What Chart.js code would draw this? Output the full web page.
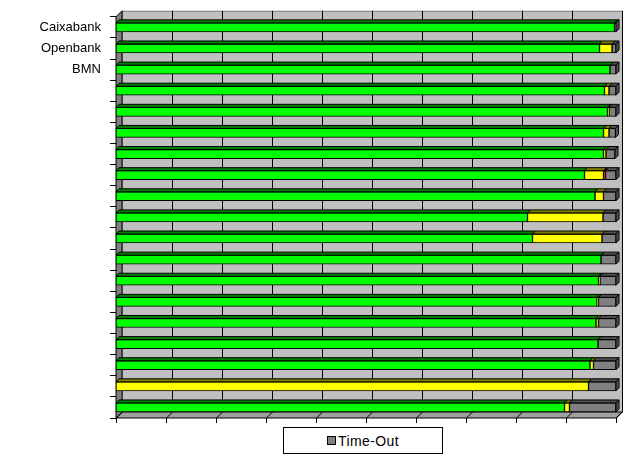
<!DOCTYPE html>
<html>
<head>
<meta charset="utf-8">
<script src="https://cdn.jsdelivr.net/npm/chart.js@4"></script>
<style>
  body { margin: 0; background: #fff; }
  #wrap { position: relative; width: 629px; height: 458px; }
  #legend { position: absolute; left: 283px; top: 427px; width: 158px; height: 25px;
            border: 1px solid #000; background: #fff; font: 14px "Liberation Sans", Arial, sans-serif;
            letter-spacing: 0.4px; display: flex; align-items: center; justify-content: center; }
  #legend span.sw { display: inline-block; width: 7px; height: 7px; background: #808080;
            border: 1px solid #000; margin-right: 2px; }
</style>
</head>
<body>
<div id="wrap">
  <canvas id="c"></canvas>
  <div id="legend"><span class="sw"></span>Time-Out</div>
</div>
<script>
// bancos (solo se leen las tres primeras etiquetas)
const categories = ['Caixabank', 'Openbank', 'BMN', '', '', '', '', '', '', '', '', '', '', '', '', '', '', '', ''];
const okValues      = [99.7, 96.7, 98.8, 97.7, 98.3, 97.5, 97.5, 93.7, 95.8, 82.3, 83.3, 97.0, 96.5, 96.2, 96.0, 96.4, 94.8, 0,    89.7];
const slowValues    = [0,    2.5,  0,    0.9,  0.3,  1.1,  0.5,  3.8,  1.7,  15.1, 13.9, 0,    0.3,  0.3,  0.5,  0,    0.7,  94.5, 1.0];
const errorValues   = [0,    0,    0,    0,    0,    0,    0,    0.4,  0,    0,    0,    0,    0,    0,    0,    0,    0,    0,    0];
const timeoutValues = [0.3,  0.8,  1.2,  1.4,  1.4,  1.3,  1.8,  2.1,  2.5,  2.6,  2.8,  3.0,  3.2,  3.5,  3.5,  3.6,  4.5,  5.5,  9.3];
const xTicks = [0, 10, 20, 30, 40, 50, 60, 70, 80, 90, 100];

const DEPTH = 6;     // profundidad de las paredes
const BAR_D = 3;     // profundidad de las barras

const faceColors = {
    '#00FF00': '#008000',
    '#FFFF00': '#808000',
    '#FF0000': '#800000',
    '#808080': '#505050'
};

function poly(ctx, pts, fill) {
    ctx.beginPath();
    ctx.moveTo(pts[0][0], pts[0][1]);
    for (let i = 1; i < pts.length; i++) ctx.lineTo(pts[i][0], pts[i][1]);
    ctx.closePath();
    if (fill) { ctx.fillStyle = fill; ctx.fill(); }
    ctx.stroke();
}

// paredes, suelo y rejilla estilo 3D
const wallsPlugin = {
    id: 'walls',
    beforeDatasetsDraw(chart) {
        const { ctx, chartArea: a, scales } = chart;
        const x = scales.x;
        const d = DEPTH;
        ctx.save();
        ctx.lineWidth = 1;
        ctx.strokeStyle = '#000';
        // pared del fondo
        ctx.fillStyle = '#C0C0C0';
        ctx.fillRect(a.left + d, a.top - d, a.right - a.left, a.bottom - a.top);
        ctx.strokeStyle = '#808080';
        ctx.strokeRect(a.left + d + 0.5, a.top - d + 0.5, a.right - a.left, a.bottom - a.top);
        // rejilla vertical
        ctx.strokeStyle = '#000';
        xTicks.slice(1, -1).forEach(v => {
            const px = Math.round(x.getPixelForValue(v)) + d + 0.5;
            ctx.beginPath(); ctx.moveTo(px, a.top - d); ctx.lineTo(px, a.bottom - d); ctx.stroke();
        });
        // borde derecho
        ctx.beginPath(); ctx.moveTo(a.right + d + 0.5, a.top - d); ctx.lineTo(a.right + d + 0.5, a.bottom - d); ctx.stroke();
        // pared izquierda
        ctx.strokeStyle = '#000';
        poly(ctx, [[a.left, a.top], [a.left + d, a.top - d], [a.left + d, a.bottom - d], [a.left, a.bottom]], '#808080');
        // suelo
        poly(ctx, [[a.left, a.bottom], [a.left + d, a.bottom - d], [a.right + d, a.bottom - d], [a.right, a.bottom]], '#A0A0A0');
        xTicks.forEach(v => {
            const px = Math.round(x.getPixelForValue(v)) + 0.5;
            ctx.beginPath(); ctx.moveTo(px, a.bottom); ctx.lineTo(px + d, a.bottom - d); ctx.stroke();
            ctx.beginPath(); ctx.moveTo(px, a.bottom); ctx.lineTo(px, a.bottom + 5); ctx.stroke();
        });
        ctx.restore();
    },
    afterDatasetsDraw(chart) {
        const { ctx } = chart;
        const d = BAR_D;
        ctx.save();
        ctx.lineWidth = 1;
        ctx.strokeStyle = '#000';
        const n = chart.data.labels.length;
        for (let i = 0; i < n; i++) {
            let last = null;
            chart.data.datasets.forEach((ds, di) => {
                const meta = chart.getDatasetMeta(di);
                const el = meta.data[i];
                if (!el || !ds.data[i]) return;
                const p = el.getProps(['x', 'y', 'base', 'height'], true);
                const top = p.y - p.height / 2;
                const x0 = Math.min(p.base, p.x), x1 = Math.max(p.base, p.x);
                poly(ctx, [[x0, top], [x0 + d, top - d], [x1 + d, top - d], [x1, top]], faceColors[ds.backgroundColor]);
                last = { x1, top, bottom: p.y + p.height / 2, color: faceColors[ds.backgroundColor] };
            });
            if (last) {
                poly(ctx, [[last.x1, last.top], [last.x1 + d, last.top - d], [last.x1 + d, last.bottom - d], [last.x1, last.bottom]], last.color);
            }
        }
        ctx.restore();
    }
};

function makeSet(label, data, color) {
    return { label, data, backgroundColor: color, borderColor: '#000', borderWidth: 1,
             borderSkipped: false, barThickness: 9, categoryPercentage: 1, barPercentage: 1 };
}

new Chart(document.getElementById('c'), {
    type: 'bar',
    data: {
        labels: categories,
        datasets: [
            makeSet('OK', okValues, '#00FF00'),
            makeSet('Lento', slowValues, '#FFFF00'),
            makeSet('Error', errorValues, '#FF0000'),
            makeSet('Time-Out', timeoutValues, '#808080')
        ]
    },
    options: {
        indexAxis: 'y',
        responsive: true,
        maintainAspectRatio: false,
        animation: false,
        layout: { padding: { left: 0, right: 13, top: 14, bottom: 40 } },
        plugins: { legend: { display: false }, tooltip: { enabled: false } },
        scales: {
            x: { stacked: true, min: 0, max: 100, display: false },
            y: {
                stacked: true,
                afterFit: s => { s.width = 116; },
                grid: { display: true, drawOnChartArea: false, drawTicks: true, tickLength: 6, color: '#000', offset: true },
                border: { display: true, color: '#000' },
                ticks: { autoSkip: false, color: '#000', padding: 9,
                         font: { family: '"Liberation Sans", Arial, sans-serif', size: 13 } }
            }
        }
    },
    plugins: [wallsPlugin]
});
</script>
</body>
</html>
